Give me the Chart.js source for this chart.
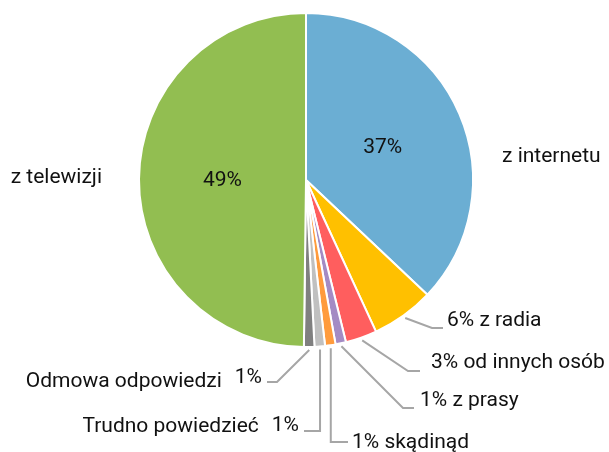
<!DOCTYPE html>
<html>
<head>
<meta charset="utf-8">
<script src="https://cdn.jsdelivr.net/npm/chart.js@4/dist/chart.umd.min.js"></script>
<style>
  html, body { margin:0; padding:0; background:#fff; }
  #wrap { width:609px; height:452px; }
</style>
</head>
<body>
<div id="wrap"><canvas id="ch" width="609" height="452"></canvas></div>
<script>
// clockwise from 12 o'clock
const categories = ['z internetu','z radia','od innych osób','z prasy','skądinąd','Trudno powiedzieć','Odmowa odpowiedzi','z telewizji'];
const values = [36.6, 6.0, 3.0, 1.0, 1.0, 1.0, 1.0, 49.2];
const colors = ['#6BAED3','#FFC000','#FF5E5E','#A48BC4','#FF9B3D','#C0C0C0','#808080','#92BE51'];

const FONT = '21px Roboto';
const pct = i => Math.round(values[i]) + '%';

// label layout per slice (inside / right with leader / left with leader / plain outside)
const layout = [
  { inside:true, outside:{ x:502, y:162, align:'left', text:i=>categories[i] } },
  { elbow:[432,328], end:[443,328], text:{ x:447, y:326 } },
  { elbow:[408,371], end:[420,371], text:{ x:431, y:368 } },
  { elbow:[403,408], end:[414,408], text:{ x:420, y:406 } },
  { elbow:[null,442], end:[348,442], text:{ x:352, y:448 } },
  { elbow:[null,431], end:[304,431], left:{ x:299, y:431, ny:432 } },
  { elbow:[277,382], end:[267,382], left:{ x:262, y:383, ny:387 } },
  { inside:true, outside:{ x:102, y:183, align:'right', text:i=>categories[i] } }
];

const labelsPlugin = {
  id:'pieLabels',
  afterDatasetsDraw(chart){
    const ctx = chart.ctx;
    const meta = chart.getDatasetMeta(0);
    ctx.save();
    ctx.font = FONT;
    ctx.fillStyle = '#111';
    meta.data.forEach((arc, i) => {
      const L = layout[i];
      const p = arc.getProps(['x','y','startAngle','endAngle','outerRadius'], true);
      if(L.inside){
        const tp = arc.tooltipPosition(true);
        ctx.textAlign = 'center'; ctx.textBaseline = 'middle';
        ctx.fillText(pct(i), tp.x, tp.y + 1);
        ctx.textBaseline = 'alphabetic'; ctx.textAlign = L.outside.align;
        ctx.fillText(L.outside.text(i), L.outside.x, L.outside.y);
        return;
      }
      const mid = (p.startAngle + p.endAngle) / 2;
      const sx = p.x + Math.cos(mid) * (p.outerRadius + 3);
      const sy = p.y + Math.sin(mid) * (p.outerRadius + 3);
      const ex = L.elbow[0] === null ? sx : L.elbow[0];
      ctx.strokeStyle = '#A6A6A6'; ctx.lineWidth = 2;
      ctx.beginPath();
      ctx.moveTo(sx, sy);
      ctx.lineTo(ex, L.elbow[1]);
      ctx.lineTo(L.end[0], L.end[1]);
      ctx.stroke();
      ctx.textBaseline = 'alphabetic';
      if(L.text){
        ctx.textAlign = 'left';
        ctx.fillText(pct(i) + ' ' + categories[i], L.text.x, L.text.y);
      } else {
        ctx.textAlign = 'right';
        const v = pct(i);
        ctx.fillText(v, L.left.x, L.left.y);
        const w = ctx.measureText(v).width;
        ctx.fillText(categories[i], L.left.x - w - 13, L.left.ny);
      }
    });
    ctx.restore();
  }
};

new Chart(document.getElementById('ch'), {
  type:'pie',
  data:{ labels:categories, datasets:[{ data:values, backgroundColor:colors, borderColor:'#fff', borderWidth:2 }] },
  options:{
    responsive:false, animation:false, radius:167,
    layout:{ padding:{ left:138, right:135, top:13, bottom:105 } },
    plugins:{ legend:{ display:false }, tooltip:{ enabled:false } }
  },
  plugins:[labelsPlugin]
});
</script>
</body>
</html>
